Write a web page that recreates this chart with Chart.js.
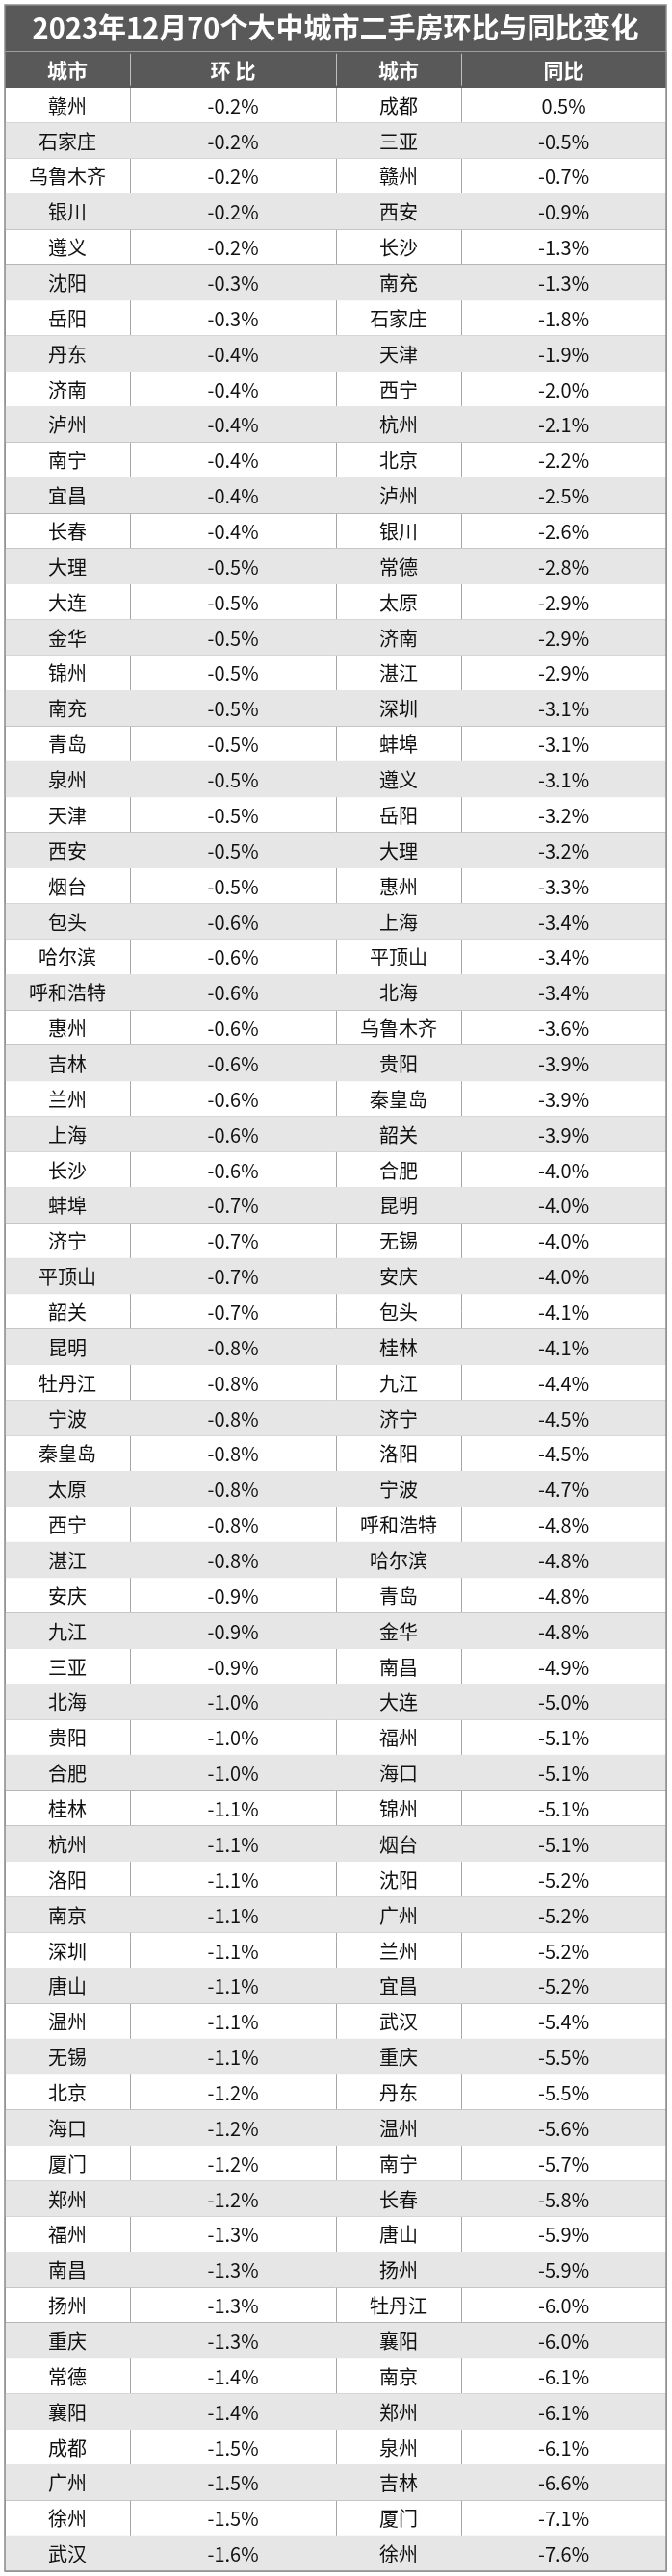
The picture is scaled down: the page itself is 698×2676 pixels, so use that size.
<!DOCTYPE html>
<html>
<head>
<meta charset="utf-8">
<script src="https://cdn.jsdelivr.net/npm/chart.js@4"></script>
<style>
  body { margin: 0; background: #fff; }
  #wrap { width: 698px; height: 2676px; }
</style>
</head>
<body>
<div id="wrap"><canvas id="tbl"></canvas></div>
<script>
const title = '2023年12月70个大中城市二手房环比与同比变化';
const headers = ['城市', '环 比', '城市', '同比'];
const momCities = ['赣州','石家庄','乌鲁木齐','银川','遵义','沈阳','岳阳','丹东','济南','泸州','南宁','宜昌','长春','大理','大连','金华','锦州','南充','青岛','泉州','天津','西安','烟台','包头','哈尔滨','呼和浩特','惠州','吉林','兰州','上海','长沙','蚌埠','济宁','平顶山','韶关','昆明','牡丹江','宁波','秦皇岛','太原','西宁','湛江','安庆','九江','三亚','北海','贵阳','合肥','桂林','杭州','洛阳','南京','深圳','唐山','温州','无锡','北京','海口','厦门','郑州','福州','南昌','扬州','重庆','常德','襄阳','成都','广州','徐州','武汉'];
const momValues = [-0.2,-0.2,-0.2,-0.2,-0.2,-0.3,-0.3,-0.4,-0.4,-0.4,-0.4,-0.4,-0.4,-0.5,-0.5,-0.5,-0.5,-0.5,-0.5,-0.5,-0.5,-0.5,-0.5,-0.6,-0.6,-0.6,-0.6,-0.6,-0.6,-0.6,-0.6,-0.7,-0.7,-0.7,-0.7,-0.8,-0.8,-0.8,-0.8,-0.8,-0.8,-0.8,-0.9,-0.9,-0.9,-1.0,-1.0,-1.0,-1.1,-1.1,-1.1,-1.1,-1.1,-1.1,-1.1,-1.1,-1.2,-1.2,-1.2,-1.2,-1.3,-1.3,-1.3,-1.3,-1.4,-1.4,-1.5,-1.5,-1.5,-1.6];
const yoyCities = ['成都','三亚','赣州','西安','长沙','南充','石家庄','天津','西宁','杭州','北京','泸州','银川','常德','太原','济南','湛江','深圳','蚌埠','遵义','岳阳','大理','惠州','上海','平顶山','北海','乌鲁木齐','贵阳','秦皇岛','韶关','合肥','昆明','无锡','安庆','包头','桂林','九江','济宁','洛阳','宁波','呼和浩特','哈尔滨','青岛','金华','南昌','大连','福州','海口','锦州','烟台','沈阳','广州','兰州','宜昌','武汉','重庆','丹东','温州','南宁','长春','唐山','扬州','牡丹江','襄阳','南京','郑州','泉州','吉林','厦门','徐州'];
const yoyValues = [0.5,-0.5,-0.7,-0.9,-1.3,-1.3,-1.8,-1.9,-2.0,-2.1,-2.2,-2.5,-2.6,-2.8,-2.9,-2.9,-2.9,-3.1,-3.1,-3.1,-3.2,-3.2,-3.3,-3.4,-3.4,-3.4,-3.6,-3.9,-3.9,-3.9,-4.0,-4.0,-4.0,-4.0,-4.1,-4.1,-4.4,-4.5,-4.5,-4.7,-4.8,-4.8,-4.8,-4.8,-4.9,-5.0,-5.1,-5.1,-5.1,-5.1,-5.2,-5.2,-5.2,-5.2,-5.4,-5.5,-5.5,-5.6,-5.7,-5.8,-5.9,-5.9,-6.0,-6.0,-6.1,-6.1,-6.1,-6.6,-7.1,-7.6];
// column edges in table units
const colEdges = [0, 130, 344, 474, 687];

const fmt = v => v.toFixed(1) + '%';
const rowLabels = ['h'].concat(momCities.map((_, i) => 'r' + i));
const rows = [headers].concat(momCities.map((c, i) => [c, fmt(momValues[i]), yoyCities[i], fmt(yoyValues[i])]));
const tableW = colEdges[colEdges.length - 1];

// title band + cell text drawn through the scales
const tablePlugin = {
    id: 'tableText',
    beforeDraw(chart) {
        const { ctx, chartArea } = chart;
        ctx.save();
        ctx.fillStyle = '#595959';
        ctx.fillRect(chartArea.left, 5, chartArea.right - chartArea.left, chartArea.top - 5);
        ctx.restore();
    },
    afterDraw(chart) {
        const { ctx, chartArea, scales: { x, y } } = chart;
        ctx.save();
        ctx.textAlign = 'center';
        ctx.textBaseline = 'middle';
        rows.forEach((r, i) => {
            const py = y.getPixelForValue(i);
            ctx.fillStyle = i === 0 ? '#ffffff' : '#111111';
            ctx.font = i === 0 ? 'bold 21px "Noto Sans CJK SC"' : '20px "Noto Sans CJK SC"';
            r.forEach((t, c) => {
                const px = x.getPixelForValue((colEdges[c] + colEdges[c + 1]) / 2);
                ctx.fillText(t, px, py + 1);
            });
        });
        const step = y.getPixelForValue(1) - y.getPixelForValue(0);
        const top = y.getPixelForValue(0) - step / 2;
        // header column dividers in light grey
        ctx.strokeStyle = '#bfbfbf';
        ctx.lineWidth = 1;
        colEdges.slice(1, -1).forEach(e => {
            const px = Math.round(x.getPixelForValue(e)) + 0.5;
            ctx.beginPath();
            ctx.moveTo(px, top + 2);
            ctx.lineTo(px, top + step - 2);
            ctx.stroke();
        });
        // outer frame
        ctx.strokeStyle = '#8c8c8c';
        ctx.lineWidth = 1.5;
        ctx.strokeRect(chartArea.left, 5, chartArea.right - chartArea.left, chartArea.bottom - 5);
        ctx.restore();
    }
};

new Chart(document.getElementById('tbl'), {
    type: 'bar',
    data: {
        labels: rowLabels,
        datasets: [{
            data: rowLabels.map((_, i) => (i === 0 || i % 2 === 0) ? [0, tableW] : null),
            backgroundColor: rowLabels.map((_, i) => i === 0 ? '#595959' : '#e6e6e6'),
            barPercentage: 1,
            categoryPercentage: 1,
            borderWidth: 0
        }]
    },
    options: {
        indexAxis: 'y',
        responsive: true,
        maintainAspectRatio: false,
        animation: false,
        layout: { padding: { left: 5, right: 6, top: 5, bottom: 5 } },
        plugins: {
            legend: { display: false },
            tooltip: { enabled: false },
            title: {
                display: true,
                text: title,
                color: '#ffffff',
                font: { family: '"Noto Sans CJK SC"', size: 29, weight: 'bold' },
                padding: { top: 7, bottom: 7 }
            }
        },
        scales: {
            x: {
                type: 'linear', min: 0, max: tableW,
                afterBuildTicks: axis => { axis.ticks = colEdges.map(v => ({ value: v })); },
                ticks: { display: false },
                grid: { color: '#a6a6a6', drawTicks: false },
                border: { display: false }
            },
            y: {
                type: 'category',
                ticks: { display: false },
                grid: { offset: true, color: '#a6a6a6', drawTicks: false },
                border: { display: false }
            }
        }
    },
    plugins: [tablePlugin]
});
</script>
</body>
</html>
